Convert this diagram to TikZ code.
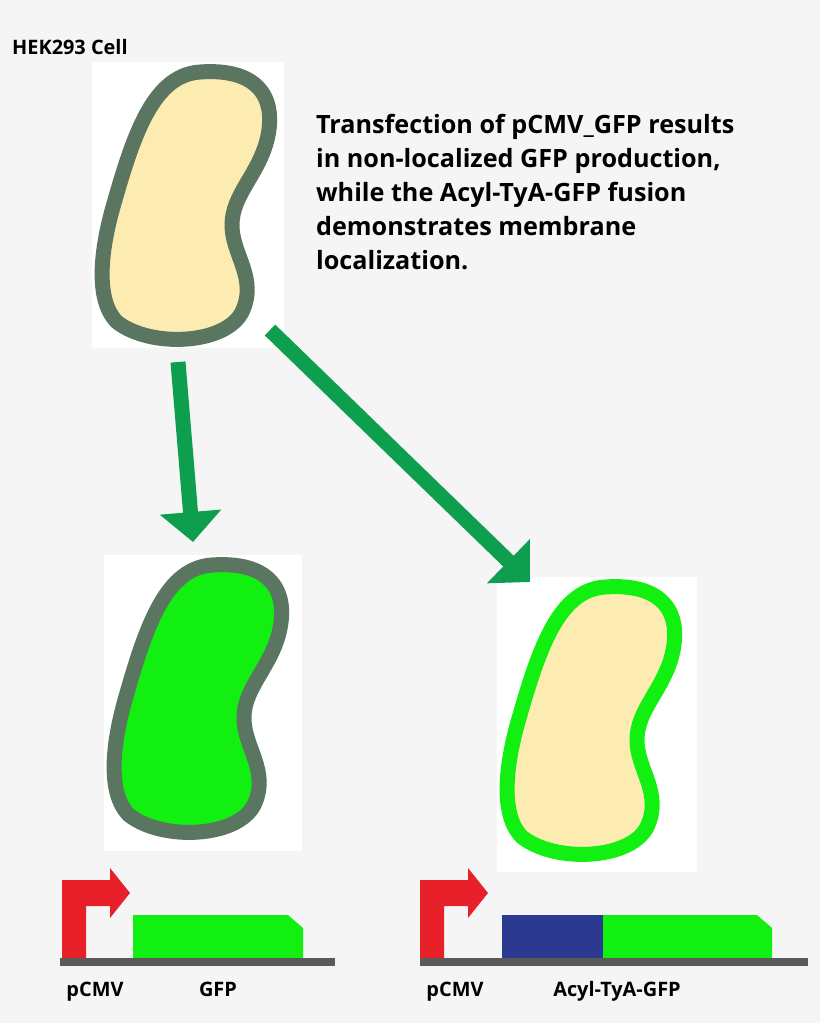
\documentclass[tikz,border=0pt]{standalone}
\usepackage{fontspec}
\setmainfont{Open Sans}
\usetikzlibrary{arrows.meta,positioning}
\definecolor{bgGray}{HTML}{F5F5F5}
\definecolor{cellRim}{HTML}{5A7560}
\definecolor{cellFill}{HTML}{FDECB2}
\definecolor{gfpGreen}{HTML}{11F011}
\definecolor{arrowGreen}{HTML}{0E9F4E}
\definecolor{promRed}{HTML}{E8202A}
\definecolor{acylBlue}{HTML}{2B3990}
\definecolor{lineGray}{HTML}{5A5A5A}

\tikzset{
  cell/.style={line width=0.45cm, line join=round},
  flow/.style={arrowGreen, line width=0.45cm, -{Triangle[length=0.9cm,width=1.8cm]}},
  label/.style={font=\bfseries\fontsize{17}{19}\selectfont, anchor=base},
  backbone/.style={lineGray, line width=0.24cm},
  pics/bean/.style={code={
    \path[pic actions] (200,72) .. controls (255,68) and (278,95) .. (267,140)
      .. controls (258,175) and (232,195) .. (232,225)
      .. controls (232,255) and (258,278) .. (242,312)
      .. controls (225,345) and (150,348) .. (117,322)
      .. controls (95,300) and (100,250) .. (115,200)
      .. controls (135,130) and (155,75) .. (200,72) -- cycle;
  }},
  pics/promoter/.style={code={
    \fill[promRed] (0,0) -- (48,0) -- (48,-12) -- (68,13) -- (48,38) -- (48,26)
      -- (24,26) -- (24,78) -- (0,78) -- cycle;
  }}
}

\begin{document}
\begin{tikzpicture}[x=0.03cm,y=-0.03cm]
  \fill[bgGray] (0,0) rectangle (820,1023);
  \useasboundingbox (0,0) rectangle (820,1023);

  % cells
  \fill[white] (92,62) rectangle (284,348);
  \pic[cell, draw=cellRim, fill=cellFill] at (0,0) {bean};
  \fill[white] (104,555) rectangle (302,851);
  \pic[cell, draw=cellRim, fill=gfpGreen] at (12,493) {bean};
  \fill[white] (497,577) rectangle (697,872);
  \pic[cell, draw=gfpGreen, fill=cellFill] at (405,515) {bean};

  \node[label, anchor=base west] (hek) at (8,54) {HEK293 Cell};
  \node[align=left, anchor=north west, font=\bfseries\fontsize{21.5}{29}\selectfont] (note) at (312,110)
    {Transfection of pCMV\_GFP results\\in non-localized GFP production,\\while the Acyl-TyA-GFP fusion\\demonstrates membrane\\localization.};

  % arrows
  \coordinate (src1) at (178,362);
  \coordinate (dst1) at (193,542);
  \coordinate (src2) at (270,330);
  \coordinate (dst2) at (530,582);
  \draw[flow] (src1) -- (dst1);
  \draw[flow] (src2) -- (dst2);

  % construct 1
  \pic at (62,880) {promoter};
  \fill[gfpGreen] (133,915) -- (288,915) -- (303,928) -- (303,958) -- (133,958) -- cycle;
  \draw[backbone] (60,962) -- (335,962);
  \node[label] (prom1) at (95,996) {pCMV};
  \node[label] (gfp1) at (218,996) {GFP};

  % construct 2
  \pic at (420,880) {promoter};
  \fill[acylBlue] (502,915) rectangle (603,958);
  \fill[gfpGreen] (603,915) -- (757,915) -- (772,928) -- (772,958) -- (603,958) -- cycle;
  \draw[backbone] (420,962) -- (808,962);
  \node[label] (prom2) at (455,996) {pCMV};
  \node[label] (gfp2) at (617,996) {Acyl-TyA-GFP};
\end{tikzpicture}
\end{document}
